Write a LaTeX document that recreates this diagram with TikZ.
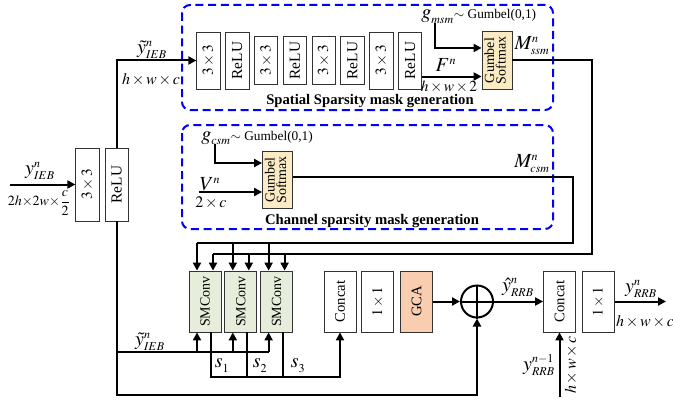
\documentclass[tikz,border=0pt]{standalone}
\usepackage{amsmath}
\usepackage{mathptmx}
\usepackage{fontspec}
\setmainfont{Liberation Serif}
\usepackage{graphicx}
\usetikzlibrary{arrows.meta,positioning}
\definecolor{smfill}{HTML}{E6EDDA}
\definecolor{gumfill}{HTML}{FBEBC4}
\definecolor{gcafill}{HTML}{F8CDB0}
\newcommand{\vlabel}[1]{\rotatebox{90}{#1}}
\newcommand{\gumbeltext}{\rotatebox{90}{\begin{tabular}{@{}c@{}}Gumbel\\[-2pt]Softmax\end{tabular}}}
\newcommand{\sym}[3]{#1^{\scriptscriptstyle #2}_{\scriptscriptstyle #3}}
\newcommand{\tms}{\mkern2mu{\times}\mkern2mu}

\begin{document}
\begin{tikzpicture}[
    x=0.75pt, y=-0.75pt,
    node distance=3.4pt,
    block/.style={rectangle, draw=black!80, line width=0.6pt, minimum width=17.6pt, inner sep=0pt, font=\fontsize{11.5}{13}\selectfont},
    tallblock/.style={block, minimum height=42.75pt},
    shortblock/.style={block, minimum height=36pt},
    wideblock/.style={block, minimum width=24pt, minimum height=45.75pt, font=\fontsize{11}{13}\selectfont},
    smconv/.style={wideblock, fill=smfill, font=\fontsize{10.5}{12}\selectfont},
    gumbel/.style={block, fill=gumfill, minimum width=22.5pt, minimum height=43pt, font=\fontsize{10.5}{10.5}\selectfont},
    maskbox/.style={draw=blue, dash pattern=on 6pt off 3.5pt, line width=1.5pt, rounded corners=6pt},
    arrow/.style={-{Triangle[length=6pt,width=6pt]}, line width=1.5pt},
    link/.style={line width=1.5pt},
    mathlbl/.style={inner sep=0pt, font=\fontsize{15}{18}\selectfont},
    dimlbl/.style={inner sep=0pt, font=\fontsize{12}{14}\selectfont},
    title/.style={inner sep=0pt, font=\bfseries\fontsize{11}{13}\selectfont}
  ]
    \useasboundingbox (0,0) rectangle (673,403);

    % dashed mask generation boxes
    \draw[maskbox] (182,5) rectangle (553,110);
    \draw[maskbox] (182,125) rectangle (553,229);
    \node[title] (ssmtitle) at (370,101) {Spatial Sparsity mask generation};
    \node[title] (csmtitle) at (372,221) {Channel sparsity mask generation};

    % input stage
    \node[block, minimum height=54.75pt] (conv0) at (87.5,184.5) {\vlabel{$3\tms3$}};
    \node[block, minimum height=54.75pt, right=3.75pt of conv0] (relu0) {\vlabel{ReLU}};

    % spatial mask branch
    \node[tallblock] (sconv1) at (208.5,60.5) {\vlabel{$3\tms3$}};
    \node[tallblock, right=of sconv1] (srelu1) {\vlabel{ReLU}};
    \node[shortblock, right=of srelu1] (sconv2) {\vlabel{$3\tms3$}};
    \node[shortblock, right=of sconv2] (srelu2) {\vlabel{ReLU}};
    \node[shortblock, right=of srelu2] (sconv3) {\vlabel{$3\tms3$}};
    \node[shortblock, right=of sconv3] (srelu3) {\vlabel{ReLU}};
    \node[tallblock, right=of srelu3] (sconv4) {\vlabel{$3\tms3$}};
    \node[tallblock, right=of sconv4] (srelu4) {\vlabel{ReLU}};
    \node[gumbel] (gssm) at (497,60.5) {\gumbeltext};

    % channel mask branch
    \node[gumbel] (gcsm) at (277.5,180) {\gumbeltext};

    % sparse mask convolutions and fusion
    \node[smconv] (smc1) at (205,301.5) {\vlabel{SMConv}};
    \node[smconv, right=2.25pt of smc1] (smc2) {\vlabel{SMConv}};
    \node[smconv, right=2.25pt of smc2] (smc3) {\vlabel{SMConv}};
    \node[wideblock] (cat1) at (340,301.5) {\vlabel{Concat}};
    \node[wideblock, right=3.75pt of cat1] (fuse1) {\vlabel{$1\tms1$}};
    \node[wideblock, fill=gcafill, right=4.5pt of fuse1] (gca) {\vlabel{GCA}};
    \node[circle, draw, line width=1.5pt, minimum size=24pt, inner sep=0pt] (plus) at (477,301.5) {};
    \draw[link] (plus.north) -- (plus.south) (plus.west) -- (plus.east);
    \node[wideblock] (cat2) at (559.5,301.5) {\vlabel{Concat}};
    \node[wideblock, right=4.5pt of cat2] (fuse2) {\vlabel{$1\tms1$}};

    % named free ends
    \coordinate (yin) at (10,184.5);
    \coordinate (gmsm) at (435,23);
    \coordinate (gcsmin) at (215,144);
    \coordinate (vin) at (199,192);
    \coordinate (fmap) at ([yshift=-12pt]gssm.west);
    \coordinate (csmbus) at (573,243);
    \coordinate (ssmbus) at (592,254);
    \coordinate (ybus) at (0,352);
    \coordinate (obus) at (0,377);
    \coordinate (lowbus) at (0,395);
    \coordinate (yout) at (666,301.5);
    \coordinate (yprev) at (559.5,397);

    % input and trunk
    \draw[arrow] (yin) -- (conv0);
    \draw[arrow] (relu0.north) |- (sconv1.west);
    \draw[arrow] (relu0.south) -- (relu0.south |- lowbus) -| (plus.south);

    % spatial mask inputs
    \draw[arrow] (srelu4.east |- fmap) -- (fmap);
    \draw[arrow] (gmsm) |- ([yshift=9.4pt]gssm.west);

    % channel mask inputs
    \draw[arrow] (gcsmin) |- ([yshift=12.75pt]gcsm.west);
    \draw[arrow] (vin) -- (vin -| gcsm.west);

    % masks to SMConv
    \draw[link] ([yshift=2pt]gcsm.east) -| (csmbus) -- ([xshift=-6pt]smc1.north |- csmbus);
    \draw[link] (gssm.east) -| (ssmbus) -- ([xshift=6pt]smc1.north |- ssmbus);
    \foreach \n in {smc1,smc2,smc3} {
      \draw[arrow] ([xshift=-6pt]\n.north |- csmbus) -- ([xshift=-6pt]\n.north);
      \draw[arrow] ([xshift=6pt]\n.north |- ssmbus) -- ([xshift=6pt]\n.north);
    }

    % features into SMConv, outputs to concat
    \draw[link] (relu0.south |- ybus) -- ([xshift=-6pt]smc3.south |- ybus);
    \foreach \n in {smc1,smc2,smc3}
      \draw[arrow] ([xshift=-6pt]\n.south |- ybus) -- ([xshift=-6pt]\n.south);
    \draw[arrow] ([xshift=4.5pt]smc1.south) |- (cat1.south |- obus) -- (cat1.south);
    \foreach \n in {smc2,smc3}
      \draw[link] ([xshift=4.5pt]\n.south) -- ([xshift=4.5pt]\n.south |- obus);

    % fusion tail
    \draw[arrow] (gca) -- (plus);
    \draw[arrow] (plus) -- (cat2);
    \draw[arrow] (fuse2) -- (yout);
    \draw[arrow] (yprev) -- (cat2);

    % labels
    \node[mathlbl] (lyin) at (40,171) {$\sym{y}{n}{IEB}$};
    \node[inner sep=0pt, font=\fontsize{10.5}{12}\selectfont] (lyindim) at (39,203) {$2h{\times}2w{\times}\dfrac{c}{2}$};
    \node[mathlbl] (lytop) at (152,50) {$\sym{\tilde{y}}{n}{IEB}$};
    \node[dimlbl] (lytopdim) at (151,80) {$h\tms w\tms c$};
    \node[mathlbl] (lybot) at (150,342) {$\sym{\tilde{y}}{n}{IEB}$};
    \node[mathlbl, anchor=base west] (lgmsm) at (421,19) {$\sym{g}{}{msm}$\fontsize{10}{12}\selectfont$\sim$ Gumbel(0,1)};
    \node[mathlbl] (lfmap) at (446,65) {$F^{\scriptscriptstyle n}$};
    \node[inner sep=0pt, font=\fontsize{11.5}{13}\selectfont] (lfmapdim) at (449,87) {$h\tms w\tms 2$};
    \node[mathlbl] (lmssm) at (532,46) {$\sym{M}{n}{ssm}$};
    \node[mathlbl, anchor=base west] (lgcsm) at (201,140) {$\sym{g}{}{csm}$\fontsize{10}{12}\selectfont$\sim$ Gumbel(0,1)};
    \node[mathlbl] (lvn) at (210,184) {$V^{\scriptscriptstyle n}$};
    \node[inner sep=0pt, font=\fontsize{12}{14}\selectfont] (lvndim) at (211,203) {$2\tms c$};
    \node[mathlbl] (lmcsm) at (532,164) {$\sym{M}{n}{csm}$};
    \node[mathlbl] (ls1) at (222,366) {$\sym{s}{}{1}$};
    \node[mathlbl] (ls2) at (260,366) {$\sym{s}{}{2}$};
    \node[mathlbl] (ls3) at (298,366) {$\sym{s}{}{3}$};
    \node[mathlbl] (lyhat) at (518,287) {$\sym{\hat{y}}{n}{RRB}$};
    \node[mathlbl] (lyout) at (641,289) {$\sym{y}{n}{RRB}$};
    \node[dimlbl] (lyoutdim) at (645,322) {$h\tms w\tms c$};
    \node[mathlbl] (lyprev) at (539,365) {$\sym{y}{n-1}{RRB}$};
    \node[dimlbl, rotate=90] (lyprevdim) at (571,365) {$h\tms w\tms c$};
  \end{tikzpicture}
\end{document}
